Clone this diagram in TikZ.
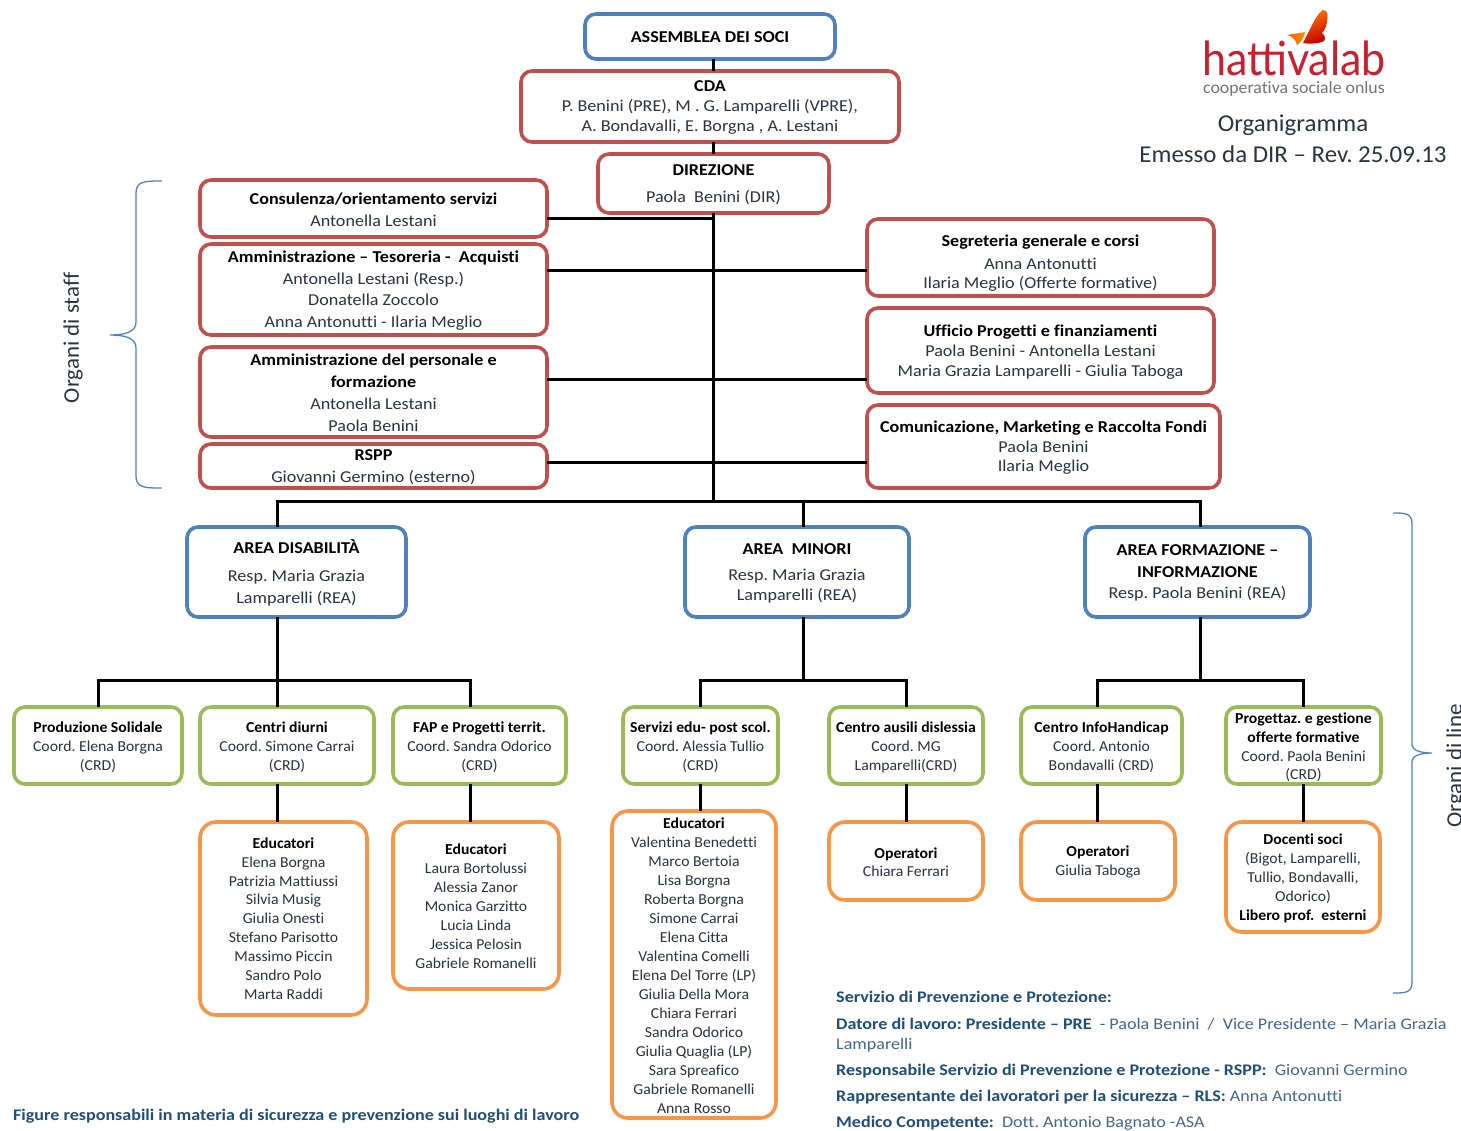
\documentclass[tikz,border=0pt]{standalone}
\usepackage{fontspec}
\setmainfont{Carlito}[Ligatures=NoCommon,FakeStretch=1.09]
\newfontfamily\lowfont{Carlito}[Ligatures=NoCommon,FakeStretch=1.035]
\newfontfamily\botfont{Carlito}[Ligatures=NoCommon,FakeStretch=1.115]
\newfontfamily\plainfont{Carlito}[Ligatures=NoCommon,FakeStretch=1.03]
\newfontfamily\logofont{Lato}[FakeStretch=0.915]
\definecolor{cred}{HTML}{C0504D}
\definecolor{cblue}{HTML}{4F81BD}
\definecolor{cgreen}{HTML}{9BBB59}
\definecolor{corange}{HTML}{F79646}
\definecolor{ctext}{HTML}{2B3240}
\definecolor{cbot}{HTML}{1F4E79}
\definecolor{cbotl}{HTML}{44658C}
\tikzset{
  orgbox/.style={draw,fill=white,rounded corners=11pt,line width=3.6pt,inner sep=0pt,outer sep=0pt,text=ctext},
  redbox/.style={orgbox,draw=cred},
  bluebox/.style={orgbox,draw=cblue},
  greenbox/.style={orgbox,draw=cgreen},
  orangebox/.style={orgbox,draw=corange,rounded corners=16pt},
  conn/.style={line width=3pt,black},
  bracket/.style={draw=cblue,line width=1.3pt},
  bline/.style={anchor=west,inner sep=0pt,text=cbotl,font=\botfont\frenchspacing\fontsize{16.2}{18}\selectfont},
  sidelabel/.style={rotate=90,inner sep=0pt,text=ctext,font=\plainfont\fontsize{22.3}{26}\selectfont},
  titletext/.style={inner sep=0pt,text=ctext,font=\plainfont\frenchspacing\fontsize{24.2}{28}\selectfont},
}
\newcommand{\B}[1]{\textbf{\color{black}#1}}
\newcommand{\BB}[1]{\textbf{\color{cbot}#1}}
% [dy]{style}{name}{x0}{y0}{x1}{y1}{size/leading}{text}
\newcommand{\obox}[9][0]{%
  \pgfmathsetmacro{\cxx}{(#4+#6)/2}\pgfmathsetmacro{\cyy}{(#5+#7)/2}%
  \pgfmathsetmacro{\www}{#6-#4}\pgfmathsetmacro{\hhh}{#7-#5}%
  \node[#2,minimum width=\www,minimum height=\hhh] (#3) at (\cxx,\cyy)
    {\raisebox{\dimexpr -#1pt - 3.6pt\relax}[0pt][0pt]{\parbox[c]{\www pt}{\centering\frenchspacing #8\selectfont #9}}};%
}
\newcommand{\fa}[1]{\fontsize{16.6}{#1}}
\newcommand{\fb}[1]{\lowfont\fontsize{15.2}{#1}}
\begin{document}
\begin{tikzpicture}[x=1pt,y=-1pt]
\useasboundingbox (0,0) rectangle (1461,1130);
% top
\obox{bluebox}{ass}{585}{14}{835}{59}{\fa{20}}{\B{ASSEMBLEA DEI SOCI}}
\obox{redbox}{cda}{521}{71}{899}{142}{\fa{20}}{\B{CDA}\\P. Benini (PRE), M . G. Lamparelli (VPRE),\\A. Bondavalli, E. Borgna , A. Lestani}
\obox{redbox}{dir}{598}{154}{829}{213}{\fa{27}}{\B{DIREZIONE}\\Paola~~Benini (DIR)}
% staff left
\obox{redbox}{cons}{200}{180}{547}{237}{\fa{22}}{\B{Consulenza/orientamento servizi}\\Antonella Lestani}
\obox{redbox}{amm}{200}{244}{547}{335}{\fa{21.7}}{\B{Amministrazione – Tesoreria -~~Acquisti}\\Antonella Lestani (Resp.)\\Donatella Zoccolo\\Anna Antonutti - Ilaria Meglio}
\obox{redbox}{pers}{200}{347}{547}{437}{\fa{22}}{\B{Amministrazione del personale e}\\\B{formazione}\\Antonella Lestani\\Paola Benini}
\obox{redbox}{rspp}{200}{444}{547}{488}{\fa{22}}{\B{RSPP}\\Giovanni Germino (esterno)}
% staff right
\obox[4]{redbox}{seg}{867}{219}{1214}{296}{\fa{19}}{\B{Segreteria generale e corsi}\\[4pt]Anna Antonutti\\Ilaria Meglio (Offerte formative)}
\obox{redbox}{uff}{867}{308}{1214}{393}{\fa{20}}{\B{Ufficio Progetti e finanziamenti}\\Paola Benini - Antonella Lestani\\Maria Grazia Lamparelli - Giulia Taboga}
\obox{redbox}{com}{867}{405}{1220}{488}{\fa{19.5}}{\B{Comunicazione, Marketing e Raccolta Fondi}\\Paola Benini\\Ilaria Meglio}
% areas
\obox{bluebox}{dis}{187}{527}{406}{617}{\fa{22}}{\B{AREA DISABILITÀ}\\[6pt]Resp. Maria Grazia\\Lamparelli (REA)}
\obox{bluebox}{min}{685}{527}{909}{617}{\fa{20}}{\B{AREA~~MINORI}\\[6pt]Resp. Maria Grazia\\Lamparelli (REA)}
\obox{bluebox}{form}{1085}{527}{1310}{617}{\fa{21.5}}{\B{AREA FORMAZIONE –}\\\B{INFORMAZIONE}\\Resp. Paola Benini (REA)}
% green
\obox[1]{greenbox}{g1}{14}{707}{182}{784}{\fb{19}}{\B{Produzione Solidale}\\Coord. Elena Borgna\\(CRD)}
\obox[1]{greenbox}{g2}{200}{707}{374}{784}{\fb{19}}{\B{Centri diurni}\\Coord. Simone Carrai\\(CRD)}
\obox[1]{greenbox}{g3}{393}{707}{566}{784}{\fb{19}}{\B{FAP e Progetti territ.}\\Coord. Sandra Odorico\\(CRD)}
\obox[1]{greenbox}{g4}{623}{707}{778}{784}{\fb{19}}{\B{Servizi edu- post scol.}\\Coord. Alessia Tullio\\(CRD)}
\obox[1]{greenbox}{g5}{829}{707}{983}{784}{\fb{19}}{\B{Centro ausili dislessia}\\Coord. MG\\Lamparelli(CRD)}
\obox[1]{greenbox}{g6}{1021}{707}{1182}{784}{\fb{19}}{\B{Centro InfoHandicap}\\Coord. Antonio\\Bondavalli (CRD)}
\obox[1]{greenbox}{g7}{1226}{707}{1381}{784}{\fb{18.7}}{\B{Progettaz. e gestione}\\\B{offerte formative}\\Coord. Paola Benini\\(CRD)}
% orange
\obox[-1]{orangebox}{e1}{200}{822}{367}{1015}{\fb{18.9}}{\B{Educatori}\\Elena Borgna\\Patrizia Mattiussi\\Silvia Musig\\Giulia Onesti\\Stefano Parisotto\\Massimo Piccin\\Sandro Polo\\Marta Raddi}
\obox{orangebox}{e2}{393}{822}{559}{989}{\fb{19}}{\B{Educatori}\\Laura Bortolussi\\Alessia Zanor\\Monica Garzitto\\Lucia Linda\\Jessica Pelosin\\Gabriele Romanelli}
\obox{orangebox}{e3}{612}{811}{776}{1118}{\fb{19.05}}{\B{Educatori}\\Valentina Benedetti\\Marco Bertoia\\Lisa Borgna\\Roberta Borgna\\Simone Carrai\\Elena Citta\\Valentina Comelli\\Elena Del Torre (LP)\\Giulia Della Mora\\Chiara Ferrari\\Sandra Odorico\\Giulia Quaglia (LP)\\Sara Spreafico\\Gabriele Romanelli\\Anna Rosso}
\obox{orangebox}{o1}{829}{822}{983}{900}{\fb{18.5}}{\B{Operatori}\\Chiara Ferrari}
\obox{orangebox}{o2}{1021}{822}{1175}{900}{\fb{18.5}}{\B{Operatori}\\Giulia Taboga}
\obox{orangebox}{d1}{1226}{822}{1380}{932}{\fb{19}}{\B{Docenti soci}\\(Bigot, Lamparelli,\\Tullio, Bondavalli,\\Odorico)\\\B{Libero prof.~~esterni}}
% connector coordinates
\coordinate (sp) at (713,501);
\coordinate (s1) at (713,218);
\coordinate (r1) at (713,270);
\coordinate (r2) at (713,379);
\coordinate (r3) at (713,462);
\coordinate (tA) at (277,501);
\coordinate (tB) at (803,501);
\coordinate (tC) at (1200,501);
\coordinate (hA) at (277,680);
\coordinate (hB) at (803,680);
\coordinate (hC) at (1200,680);
\coordinate (a3) at (470,680);
\coordinate (b1) at (700,680);
\coordinate (b2) at (906,680);
\coordinate (c1) at (1097,680);
\coordinate (c2) at (1303,680);
% connectors
\draw[conn] (sp |- ass.south) -- (sp |- cda.north);
\draw[conn] (sp |- cda.south) -- (sp |- dir.north);
\draw[conn] (sp |- dir.south) -- (sp);
\draw[conn] (s1 -| cons.east) -- (s1);
\draw[conn] (r1 -| amm.east) -- (r1 -| seg.west);
\draw[conn] (r2 -| pers.east) -- (r2 -| uff.west);
\draw[conn] (r3 -| rspp.east) -- (r3 -| com.west);
\draw[conn] (tA |- dis.north) -- (tA) -- (tC) -- (tC |- form.north);
\draw[conn] (tB) -- (tB |- min.north);
\draw[conn] (hA |- dis.south) -- (hA);
\draw[conn] (hB |- min.south) -- (hB);
\draw[conn] (hC |- form.south) -- (hC);
\draw[conn] (g1.north) -- (g1.north |- hA) -- (a3) -- (a3 |- g3.north);
\draw[conn] (hA) -- (hA |- g2.north);
\draw[conn] (b1 |- g4.north) -- (b1) -- (b2) -- (b2 |- g5.north);
\draw[conn] (c1 |- g6.north) -- (c1) -- (c2) -- (c2 |- g7.north);
\draw[conn] (hA |- g2.south) -- (hA |- e1.north);
\draw[conn] (a3 |- g3.south) -- (a3 |- e2.north);
\draw[conn] (b1 |- g4.south) -- (b1 |- e3.north);
\draw[conn] (b2 |- g5.south) -- (b2 |- o1.north);
\draw[conn] (c1 |- g6.south) -- (c1 |- o2.north);
\draw[conn] (c2 |- g7.south) -- (c2 |- d1.north);
% brackets
\draw[bracket] (162,488) .. controls (145,488) and (136,488) .. (136,476) -- (136,348)
  .. controls (136,338) and (125,335) .. (110,335) .. controls (125,335) and (136,332) .. (136,322)
  -- (136,193) .. controls (136,181) and (145,181) .. (162,181);
\draw[bracket] (1393,513) .. controls (1405,513) and (1412,513) .. (1412,524) -- (1412,745)
  .. controls (1412,750) and (1420,753) .. (1432,753) .. controls (1420,753) and (1412,756) .. (1412,761)
  -- (1412,982) .. controls (1412,993) and (1405,993) .. (1393,993);
\node[sidelabel] (ostaff) at (73,338) {Organi di staff};
\node[sidelabel] (oline) at (1456,766) {Organi di line};
% logo
\shade[left color=orange!90!red,right color=red!75!black,shading angle=20] (1303,43)
  .. controls (1310,30) and (1316,14) .. (1323,10) .. controls (1328,10) and (1328,16) .. (1327,22)
  .. controls (1326,28) and (1324,31) .. (1322,33) .. controls (1326,36) and (1326,41) .. (1322,42)
  .. controls (1316,44) and (1308,44) .. (1303,43) -- cycle;
\shade[left color=orange!70!red,right color=orange!90!yellow] (1287,35)
  .. controls (1293,34) and (1300,33) .. (1305,32) .. controls (1304,38) and (1301,42) .. (1297,45)
  .. controls (1296,40) and (1292,36) .. (1287,35) -- cycle;
\node[inner sep=0pt,text={rgb,255:red,200;green,32;blue,47},font=\logofont\fontsize{47}{50}\selectfont] (logo) at (1294,58) {hattivalab};
\node[inner sep=0pt,text={rgb,255:red,115;green,115;blue,115},font=\plainfont\fontsize{17.3}{19}\selectfont] (sub) at (1294,89) {cooperativa sociale onlus};
\node[titletext] (t1) at (1293,125) {Organigramma};
\node[titletext] (t2) at (1293,154) {Emesso da DIR – Rev. 25.09.13};
% bottom text
\node[bline] (f1) at (13,1116) {\BB{Figure responsabili in materia di sicurezza e prevenzione sui luoghi di lavoro}};
\node[bline] (l1) at (836,997) {\BB{Servizio di Prevenzione e Protezione:}};
\node[bline] (l2) at (836,1024) {\BB{Datore di lavoro: Presidente – PRE}~~- Paola Benini~~/~~Vice Presidente – Maria Grazia};
\node[bline] (l3) at (836,1045) {Lamparelli};
\node[bline] (l4) at (836,1071) {\BB{Responsabile Servizio di Prevenzione e Protezione - RSPP:}~~Giovanni Germino};
\node[bline] (l5) at (836,1097) {\BB{Rappresentante dei lavoratori per la sicurezza – RLS:} Anna Antonutti};
\node[bline] (l6) at (836,1123) {\BB{Medico Competente:}~~Dott. Antonio Bagnato -ASA};
\end{tikzpicture}
\end{document}
